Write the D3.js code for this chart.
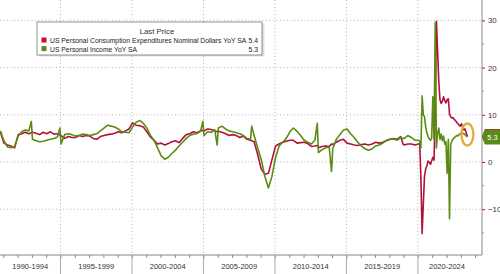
<!DOCTYPE html>
<html>
<head>
<meta charset="utf-8">
<script src="https://cdn.jsdelivr.net/npm/d3@7"></script>
<style>
  body { margin: 0; background: #fff; }
  svg { display: block; font-family: "Liberation Sans", Arial, sans-serif; }
</style>
</head>
<body>
<svg width="500" height="274"></svg>
<script>
// monthly readings (quarterly before 2020, plus the odd spike month)
var dates = [
  '1990-10', '1991-01', '1991-04', '1991-07', '1991-10', '1992-01', '1992-04', '1992-07', '1992-10', '1992-12',
  '1993-01', '1993-04', '1993-07', '1993-10', '1994-01', '1994-04', '1994-07', '1994-10', '1994-12',
  '1995-01', '1995-04', '1995-07', '1995-10', '1996-01', '1996-04', '1996-07', '1996-10',
  '1997-01', '1997-04', '1997-07', '1997-10', '1998-01', '1998-04', '1998-07', '1998-10',
  '1999-01', '1999-04', '1999-07', '1999-10', '2000-01', '2000-04', '2000-07', '2000-10',
  '2001-01', '2001-04', '2001-07', '2001-10', '2002-01', '2002-04', '2002-07', '2002-10',
  '2003-01', '2003-04', '2003-07', '2003-10', '2004-01', '2004-04', '2004-07', '2004-10', '2004-12',
  '2005-01', '2005-04', '2005-07', '2005-10', '2005-12', '2006-01', '2006-04', '2006-07', '2006-10',
  '2007-01', '2007-04', '2007-07', '2007-10', '2008-01', '2008-04', '2008-05', '2008-07', '2008-10',
  '2009-01', '2009-04', '2009-07', '2009-10', '2010-01', '2010-04', '2010-07', '2010-10',
  '2011-01', '2011-04', '2011-07', '2011-10', '2012-01', '2012-04', '2012-07', '2012-10', '2012-12',
  '2013-01', '2013-04', '2013-07', '2013-10', '2013-12', '2014-01', '2014-04', '2014-07', '2014-10',
  '2015-01', '2015-04', '2015-07', '2015-10', '2016-01', '2016-04', '2016-07', '2016-10',
  '2017-01', '2017-04', '2017-07', '2017-10', '2018-01', '2018-04', '2018-07', '2018-10', '2018-12',
  '2019-01', '2019-04', '2019-07', '2019-10', '2020-01', '2020-02', '2020-03', '2020-04', '2020-05',
  '2020-06', '2020-07', '2020-08', '2020-09', '2020-10', '2020-11', '2020-12', '2021-01', '2021-02',
  '2021-03', '2021-04', '2021-05', '2021-06', '2021-07', '2021-08', '2021-09', '2021-10', '2021-11',
  '2021-12', '2022-01', '2022-02', '2022-03', '2022-04', '2022-05', '2022-06', '2022-07', '2022-08',
  '2022-09', '2022-10', '2022-11', '2022-12', '2023-01', '2023-02', '2023-03', '2023-04', '2023-05', '2023-06'
]

var pce = [
  6.4, 4.0, 3.6, 3.4, 3.0, 5.8, 6.0, 6.3, 6.0, 6.2,
  6.3, 6.1, 5.8, 6.3, 6.0, 6.4, 5.9, 6.0, 5.7,
  5.6, 5.0, 5.4, 5.2, 5.2, 5.6, 5.4, 5.6,
  5.5, 5.0, 4.8, 5.4, 5.6, 5.8, 5.9, 6.1,
  6.4, 6.2, 6.6, 7.0, 8.3, 7.8, 7.7, 7.4,
  6.4, 5.3, 4.6, 3.8, 4.0, 3.6, 3.9, 4.3,
  4.5, 4.1, 5.0, 5.8, 6.0, 6.4, 6.2, 6.6, 6.7,
  6.6, 7.0, 6.9, 6.6, 6.4, 6.5, 6.3, 6.0, 5.6,
  5.8, 5.6, 5.2, 5.5, 4.8, 4.6, 4.5, 4.3, 1.6,
  -1.5, -2.6, -2.4, 0.5, 3.4, 3.8, 4.2, 4.4,
  4.6, 4.6, 4.0, 4.1, 4.2, 3.9, 3.3, 3.4, 3.5,
  3.0, 3.3, 3.4, 3.3, 3.8, 3.7, 4.2, 4.6, 4.8,
  4.0, 3.8, 3.6, 3.5, 3.7, 3.8, 3.6, 3.8,
  4.2, 4.0, 4.2, 4.5, 4.8, 5.0, 4.8, 5.4, 3.8,
  3.6, 3.8, 3.8, 3.6, 3.8, 3.9, -3.5, -15.2, -9.0,
  -3.0, -1.5, -0.8, 0.2, 0.0, -0.5, 0.2, 1.0, 0.4,
  10.0, 29.8, 23.5, 17.0, 13.2, 12.4, 12.9, 13.8, 13.0,
  12.5, 13.2, 13.4, 10.2, 9.6, 9.3, 9.4, 9.0, 8.8,
  8.4, 8.1, 7.8, 7.6, 8.1, 7.4, 6.8, 7.0, 6.2, 5.4
]

var income = [
  6.6, 4.5, 3.2, 3.0, 3.3, 5.5, 6.4, 6.8, 6.6, 8.6,
  4.8, 4.5, 4.3, 4.4, 4.6, 4.8, 5.0, 5.3, 7.2,
  3.8, 5.8, 6.0, 5.8, 5.5, 5.6, 5.9, 5.8,
  5.6, 5.8, 6.0, 6.6, 7.2, 7.8, 7.6, 7.4,
  7.0, 6.4, 6.3, 6.2, 7.4, 8.4, 8.8, 8.2,
  7.2, 5.6, 4.6, 3.0, 1.3, 0.6, 1.0, 1.8,
  2.5, 3.4, 4.2, 5.0, 5.6, 5.9, 6.0, 6.5, 8.6,
  5.6, 6.4, 6.3, 6.8, 3.6, 7.2, 7.6, 7.0, 6.6,
  6.4, 6.2, 6.0, 5.6, 5.0, 4.8, 7.6, 5.6, 3.0,
  0.5, -3.0, -5.5, -3.0, 1.0, 3.4, 4.2, 5.0,
  6.4, 7.2, 6.5, 5.6, 4.6, 4.2, 3.8, 4.6, 8.2,
  2.0, 2.6, 3.0, 3.2, -2.0, 2.8, 4.8, 5.8, 6.8,
  7.0, 6.0, 5.2, 4.2, 3.4, 2.8, 2.5, 2.8,
  3.4, 3.6, 4.0, 4.6, 4.8, 4.9, 4.6, 5.2, 5.0,
  5.0, 5.6, 5.2, 4.6, 4.6, 4.4, 3.0, 14.0, 10.0,
  9.6, 7.4, 6.2, 5.4, 4.9, 4.6, 5.0, 13.8, 4.7,
  29.5, 3.0, 6.0, 7.2, 4.8, 5.9, 4.5, 5.5, 3.8,
  4.3, -2.4, 4.8, -12.0, 3.8, 4.4, 4.9, 5.1, 5.4,
  5.6, 5.5, 5.8, 6.0, 6.2, 6.1, 6.0, 5.8, 5.5, 5.3
]

var yTicks = [-10, 0, 10, 20, 30]
var yMinorTicks = [-15, -5, 5, 15, 25]
var periodStarts = [1990, 1995, 2000, 2005, 2010, 2015, 2020]
var periodLabels = ['1990-1994', '1995-1999', '2000-2004', '2005-2009', '2010-2014', '2015-2019', '2020-2024']
var seriesNames = ['US Personal Consumption Expenditures Nominal Dollars YoY SA', 'US Personal Income YoY SA']
var lastValues = ['5.4', '5.3']
var colors = ['#b0123a', '#5a8c12']
var swatch = ['#c8102e', '#5a8a1a']

var right = 482
var bottom = 255

function toYear (s) {
  return +s.slice(0, 4) + (+s.slice(5, 7) - 0.5) / 12
}

var x = d3.scaleLinear().domain([1990.77, 2024.48]).range([0, right])
var y = d3.scaleLinear().domain([-19.7, 34.32]).range([bottom, 0])

var svg = d3.select('svg')

svg.append('defs').append('clipPath').attr('id', 'plot')
  .append('rect').attr('x', 0).attr('y', 0).attr('width', right).attr('height', bottom)

// grid
var grid = svg.append('g').attr('class', 'grid')
yTicks.forEach(function (v) {
  grid.append('line')
    .attr('x1', 0).attr('x2', right)
    .attr('y1', y(v)).attr('y2', y(v))
    .attr('stroke', '#b4b4b4').attr('stroke-dasharray', '1,2.5')
})
periodStarts.slice(1).forEach(function (yr) {
  grid.append('line')
    .attr('x1', x(yr)).attr('x2', x(yr))
    .attr('y1', 0).attr('y2', bottom)
    .attr('stroke', '#b4b4b4').attr('stroke-dasharray', '1,2.5')
})

// lines
var line = d3.line()
  .x(function (d, i) { return x(toYear(dates[i])) })
  .y(function (d) { return y(d) })

var linesG = svg.append('g').attr('clip-path', 'url(#plot)')
linesG.append('path').datum(pce)
  .attr('d', line).attr('fill', 'none')
  .attr('stroke', colors[0]).attr('stroke-width', 1.6).attr('stroke-linejoin', 'round')
linesG.append('path').datum(income)
  .attr('d', line).attr('fill', 'none')
  .attr('stroke', colors[1]).attr('stroke-width', 1.6).attr('stroke-linejoin', 'round')

// highlight ring round the last point
var lastX = x(toYear(dates[dates.length - 1]))
svg.append('ellipse')
  .attr('cx', lastX).attr('cy', y(+lastValues[0]) - 2)
  .attr('rx', 6).attr('ry', 11)
  .attr('fill', 'none').attr('stroke', '#e6ac3c').attr('stroke-width', 2.4)

// right axis
var yAxis = svg.append('g')
  .attr('transform', 'translate(' + right + ',0)')
  .call(d3.axisRight(y).tickValues(yTicks).tickSize(3).tickPadding(3))
yAxis.select('.domain').attr('stroke', '#888').attr('d', 'M0,0V' + bottom)
yAxis.selectAll('.tick line').attr('stroke', '#c0102e')
yAxis.selectAll('.tick text')
  .attr('fill', '#333').style('font-size', '7.8px')
  .style('font-family', '"Liberation Sans", Arial, sans-serif')
yMinorTicks.forEach(function (v) {
  svg.append('line')
    .attr('x1', right).attr('x2', right + 2)
    .attr('y1', y(v)).attr('y2', y(v))
    .attr('stroke', '#999')
})

// bottom axis
var xAxis = svg.append('g')
  .attr('transform', 'translate(0,' + bottom + ')')
  .call(d3.axisBottom(x).tickValues(d3.range(1991, 2025)).tickSize(3).tickFormat(''))
xAxis.select('.domain').attr('stroke', '#888').attr('d', 'M0,0H' + right)
xAxis.selectAll('.tick line').attr('stroke', '#888')

periodStarts.forEach(function (yr, i) {
  var a = Math.max(0, x(yr))
  var b = Math.min(right, x(yr + 5))
  if (i > 0) {
    svg.append('line')
      .attr('x1', x(yr)).attr('x2', x(yr))
      .attr('y1', bottom).attr('y2', 274)
      .attr('stroke', '#aaa')
  }
  svg.append('text')
    .attr('x', (a + b) / 2 - (i === 6 ? 3 : 0)).attr('y', 269)
    .attr('text-anchor', 'middle')
    .attr('fill', '#333').style('font-size', '7.5px')
    .text(periodLabels[i])
})

// last value tags (green sits on top of red)
lastValues.forEach(function (v, i) {
  var cy = y(+v)
  var tag = svg.append('g').attr('transform', 'translate(' + right + ',' + cy + ')')
  tag.append('path')
    .attr('d', 'M0,0L3,-7.5H18V7.5H3Z')
    .attr('fill', swatch[i])
  tag.append('text')
    .attr('x', 10.5).attr('y', 2.8)
    .attr('text-anchor', 'middle')
    .attr('fill', '#fff').style('font-size', '7.5px')
    .text(v)
})

// legend
var legend = svg.append('g').attr('transform', 'translate(37,22)')
legend.append('rect')
  .attr('x', 1.5).attr('y', 1.5).attr('width', 226).attr('height', 33)
  .attr('fill', '#ccc').attr('opacity', 0.6)
legend.append('rect')
  .attr('x', 0).attr('y', 0).attr('width', 225).attr('height', 33)
  .attr('fill', '#fff').attr('stroke', '#777').attr('stroke-width', 0.8)
legend.append('text')
  .attr('x', 120).attr('y', 11.5)
  .attr('text-anchor', 'middle')
  .attr('fill', '#333').style('font-size', '7.8px')
  .text('Last Price')
seriesNames.forEach(function (name, i) {
  var ty = 21 + i * 8.6
  legend.append('rect')
    .attr('x', 4.5).attr('y', ty - 5.5).attr('width', 5).attr('height', 5)
    .attr('fill', swatch[i])
  legend.append('text')
    .attr('x', 13).attr('y', ty)
    .attr('fill', '#222').style('font-size', '6.8px')
    .text(name)
  legend.append('text')
    .attr('x', 221).attr('y', ty)
    .attr('text-anchor', 'end')
    .attr('fill', '#222').style('font-size', '6.8px')
    .text(lastValues[i])
})
</script>
</body>
</html>
